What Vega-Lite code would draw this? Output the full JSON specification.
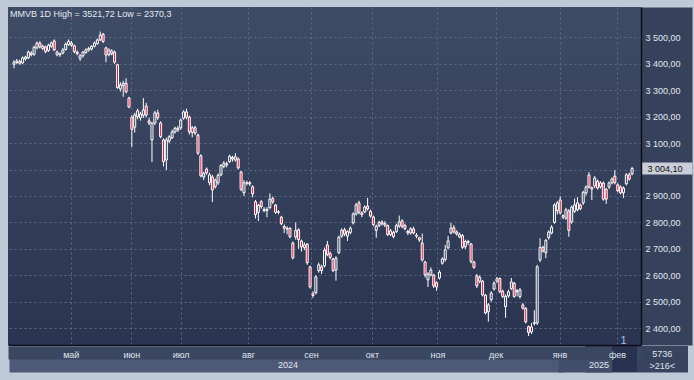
{
"$schema": "https://vega.github.io/schema/vega-lite/v6.json",
"width": 633, "height": 338,
"autosize": "none",
"padding": {"left": 8, "top": 7, "right": 53, "bottom": 35},
"background": "#bfcad9",
"title": {"text": "MMVB 1D High = 3521,72 Low = 2370,3", "anchor": "start", "frame": "group", "orient": "top", "offset": -16, "baseline": "middle", "fontSize": 9, "fontWeight": "normal", "font": "Liberation Sans", "color": "#e3e9f2", "dx": 2},
"data": {"values": [
{"n":0,"o":3398,"h":3414,"l":3383,"c":3405},{"n":1,"o":3405,"h":3418,"l":3398,"c":3410},{"n":2,"o":3408,"h":3415,"l":3396,"c":3402},{"n":3,"o":3403,"h":3428,"l":3398,"c":3422},{"n":4,"o":3418,"h":3430,"l":3412,"c":3425},{"n":5,"o":3422,"h":3450,"l":3418,"c":3444},{"n":6,"o":3440,"h":3448,"l":3428,"c":3434},{"n":7,"o":3436,"h":3468,"l":3430,"c":3462},{"n":8,"o":3460,"h":3484,"l":3455,"c":3478},{"n":9,"o":3478,"h":3485,"l":3458,"c":3464},
{"n":10,"o":3458,"h":3472,"l":3452,"c":3466},{"n":11,"o":3464,"h":3468,"l":3440,"c":3446},{"n":12,"o":3450,"h":3475,"l":3445,"c":3470},{"n":13,"o":3466,"h":3484,"l":3460,"c":3478},{"n":14,"o":3486,"h":3492,"l":3448,"c":3452},{"n":15,"o":3434,"h":3450,"l":3428,"c":3444},{"n":16,"o":3438,"h":3442,"l":3426,"c":3434},{"n":17,"o":3440,"h":3460,"l":3436,"c":3452},{"n":18,"o":3454,"h":3480,"l":3450,"c":3474},{"n":19,"o":3472,"h":3492,"l":3468,"c":3484},
{"n":20,"o":3478,"h":3486,"l":3464,"c":3470},{"n":21,"o":3468,"h":3472,"l":3440,"c":3446},{"n":22,"o":3444,"h":3450,"l":3432,"c":3438},{"n":23,"o":3420,"h":3436,"l":3410,"c":3430},{"n":24,"o":3430,"h":3448,"l":3424,"c":3444},{"n":25,"o":3442,"h":3458,"l":3438,"c":3452},{"n":26,"o":3452,"h":3464,"l":3446,"c":3458},{"n":27,"o":3456,"h":3470,"l":3450,"c":3466},{"n":28,"o":3466,"h":3484,"l":3462,"c":3478},{"n":29,"o":3476,"h":3495,"l":3472,"c":3490},
{"n":30,"o":3490,"h":3521.72,"l":3486,"c":3508},{"n":31,"o":3512,"h":3516,"l":3478,"c":3484},{"n":32,"o":3460,"h":3464,"l":3406,"c":3433},{"n":33,"o":3434,"h":3458,"l":3428,"c":3452},{"n":34,"o":3438,"h":3455,"l":3432,"c":3448},{"n":35,"o":3444,"h":3450,"l":3400,"c":3406},{"n":36,"o":3396,"h":3400,"l":3305,"c":3310},{"n":37,"o":3305,"h":3330,"l":3295,"c":3320},{"n":38,"o":3318,"h":3335,"l":3275,"c":3326},{"n":39,"o":3326,"h":3345,"l":3288,"c":3294},
{"n":40,"o":3270,"h":3275,"l":3232,"c":3236},{"n":41,"o":3198,"h":3205,"l":3085,"c":3152},{"n":42,"o":3160,"h":3215,"l":3140,"c":3206},{"n":43,"o":3200,"h":3230,"l":3190,"c":3222},{"n":44,"o":3195,"h":3218,"l":3185,"c":3210},{"n":45,"o":3205,"h":3270,"l":3195,"c":3225},{"n":46,"o":3240,"h":3252,"l":3198,"c":3206},{"n":47,"o":3184,"h":3195,"l":3168,"c":3176},{"n":48,"o":3112,"h":3180,"l":3028,"c":3175},{"n":49,"o":3176,"h":3222,"l":3168,"c":3214},
{"n":50,"o":3214,"h":3226,"l":3188,"c":3196},{"n":51,"o":3176,"h":3182,"l":3118,"c":3124},{"n":52,"o":3112,"h":3118,"l":3012,"c":3030},{"n":53,"o":3036,"h":3120,"l":2998,"c":3112},{"n":54,"o":3108,"h":3130,"l":3100,"c":3124},{"n":55,"o":3120,"h":3150,"l":3115,"c":3142},{"n":56,"o":3142,"h":3162,"l":3136,"c":3156},{"n":57,"o":3156,"h":3165,"l":3142,"c":3150},{"n":58,"o":3158,"h":3192,"l":3150,"c":3187},{"n":59,"o":3194,"h":3224,"l":3188,"c":3218},
{"n":60,"o":3218,"h":3230,"l":3190,"c":3198},{"n":61,"o":3198,"h":3204,"l":3132,"c":3142},{"n":62,"o":3140,"h":3165,"l":3122,"c":3158},{"n":63,"o":3158,"h":3165,"l":3130,"c":3138},{"n":64,"o":3130,"h":3136,"l":3055,"c":3062},{"n":65,"o":3052,"h":3058,"l":2970,"c":2976},{"n":66,"o":2972,"h":2992,"l":2960,"c":2986},{"n":67,"o":3002,"h":3008,"l":2980,"c":2988},{"n":68,"o":2950,"h":2988,"l":2940,"c":2980},{"n":69,"o":2972,"h":2980,"l":2877,"c":2923},
{"n":70,"o":2935,"h":2966,"l":2928,"c":2960},{"n":71,"o":2950,"h":2985,"l":2942,"c":2978},{"n":72,"o":2980,"h":3020,"l":2975,"c":3015},{"n":73,"o":3012,"h":3032,"l":3005,"c":3024},{"n":74,"o":3022,"h":3030,"l":3008,"c":3018},{"n":75,"o":3030,"h":3056,"l":3025,"c":3050},{"n":76,"o":3046,"h":3052,"l":3030,"c":3040},{"n":77,"o":3036,"h":3062,"l":3030,"c":3048},{"n":78,"o":3040,"h":3046,"l":3000,"c":3006},{"n":79,"o":2990,"h":2995,"l":2918,"c":2925},
{"n":80,"o":2912,"h":2960,"l":2900,"c":2950},{"n":81,"o":2948,"h":2958,"l":2940,"c":2950},{"n":82,"o":2950,"h":2956,"l":2938,"c":2946},{"n":83,"o":2935,"h":2940,"l":2895,"c":2908},{"n":84,"o":2878,"h":2885,"l":2815,"c":2830},{"n":85,"o":2838,"h":2870,"l":2805,"c":2865},{"n":86,"o":2878,"h":2885,"l":2852,"c":2860},{"n":87,"o":2850,"h":2858,"l":2838,"c":2845},{"n":88,"o":2845,"h":2858,"l":2820,"c":2850},{"n":89,"o":2856,"h":2910,"l":2850,"c":2888},
{"n":90,"o":2890,"h":2898,"l":2870,"c":2878},{"n":91,"o":2866,"h":2870,"l":2832,"c":2838},{"n":92,"o":2840,"h":2846,"l":2830,"c":2838},{"n":93,"o":2820,"h":2825,"l":2790,"c":2795},{"n":94,"o":2785,"h":2792,"l":2760,"c":2778},{"n":95,"o":2778,"h":2785,"l":2755,"c":2775},{"n":96,"o":2778,"h":2782,"l":2740,"c":2746},{"n":97,"o":2722,"h":2728,"l":2660,"c":2666},{"n":98,"o":2745,"h":2800,"l":2735,"c":2770},{"n":99,"o":2772,"h":2778,"l":2700,"c":2735},
{"n":100,"o":2730,"h":2735,"l":2690,"c":2708},{"n":101,"o":2705,"h":2725,"l":2695,"c":2715},{"n":102,"o":2718,"h":2722,"l":2640,"c":2648},{"n":103,"o":2632,"h":2636,"l":2550,"c":2556},{"n":104,"o":2530,"h":2540,"l":2515,"c":2524},{"n":105,"o":2534,"h":2600,"l":2528,"c":2594},{"n":106,"o":2618,"h":2648,"l":2610,"c":2640},{"n":107,"o":2632,"h":2640,"l":2605,"c":2618},{"n":108,"o":2636,"h":2705,"l":2630,"c":2695},{"n":109,"o":2715,"h":2730,"l":2672,"c":2678},
{"n":110,"o":2682,"h":2690,"l":2660,"c":2668},{"n":111,"o":2662,"h":2666,"l":2612,"c":2618},{"n":112,"o":2620,"h":2672,"l":2580,"c":2665},{"n":113,"o":2686,"h":2750,"l":2680,"c":2744},{"n":114,"o":2748,"h":2778,"l":2742,"c":2770},{"n":115,"o":2772,"h":2780,"l":2748,"c":2756},{"n":116,"o":2748,"h":2770,"l":2730,"c":2765},{"n":117,"o":2762,"h":2785,"l":2755,"c":2778},{"n":118,"o":2798,"h":2838,"l":2792,"c":2832},{"n":119,"o":2832,"h":2874,"l":2826,"c":2866},
{"n":120,"o":2874,"h":2882,"l":2830,"c":2838},{"n":121,"o":2836,"h":2842,"l":2820,"c":2830},{"n":122,"o":2840,"h":2865,"l":2835,"c":2858},{"n":123,"o":2862,"h":2893,"l":2845,"c":2851},{"n":124,"o":2842,"h":2848,"l":2818,"c":2824},{"n":125,"o":2821,"h":2826,"l":2785,"c":2792},{"n":126,"o":2770,"h":2792,"l":2742,"c":2786},{"n":127,"o":2788,"h":2806,"l":2782,"c":2800},{"n":128,"o":2802,"h":2808,"l":2788,"c":2795},{"n":129,"o":2796,"h":2805,"l":2782,"c":2790},
{"n":130,"o":2788,"h":2792,"l":2748,"c":2754},{"n":131,"o":2754,"h":2775,"l":2748,"c":2768},{"n":132,"o":2762,"h":2768,"l":2740,"c":2746},{"n":133,"o":2765,"h":2795,"l":2760,"c":2788},{"n":134,"o":2786,"h":2826,"l":2780,"c":2802},{"n":135,"o":2806,"h":2812,"l":2778,"c":2785},{"n":136,"o":2788,"h":2795,"l":2770,"c":2776},{"n":137,"o":2766,"h":2772,"l":2752,"c":2760},{"n":138,"o":2760,"h":2782,"l":2754,"c":2776},{"n":139,"o":2775,"h":2784,"l":2755,"c":2760},
{"n":140,"o":2752,"h":2760,"l":2740,"c":2748},{"n":141,"o":2742,"h":2746,"l":2726,"c":2734},{"n":142,"o":2722,"h":2758,"l":2652,"c":2658},{"n":143,"o":2650,"h":2655,"l":2592,"c":2602},{"n":144,"o":2583,"h":2612,"l":2556,"c":2604},{"n":145,"o":2602,"h":2630,"l":2596,"c":2620},{"n":146,"o":2601,"h":2606,"l":2552,"c":2560},{"n":147,"o":2572,"h":2578,"l":2541,"c":2556},{"n":148,"o":2590,"h":2620,"l":2584,"c":2612},{"n":149,"o":2646,"h":2668,"l":2640,"c":2662},
{"n":150,"o":2660,"h":2715,"l":2652,"c":2696},{"n":151,"o":2704,"h":2749,"l":2698,"c":2730},{"n":152,"o":2760,"h":2798,"l":2755,"c":2779},{"n":153,"o":2780,"h":2790,"l":2758,"c":2764},{"n":154,"o":2764,"h":2770,"l":2750,"c":2756},{"n":155,"o":2745,"h":2762,"l":2740,"c":2755},{"n":156,"o":2750,"h":2756,"l":2700,"c":2706},{"n":157,"o":2708,"h":2735,"l":2700,"c":2728},{"n":158,"o":2728,"h":2734,"l":2715,"c":2724},{"n":159,"o":2718,"h":2722,"l":2645,"c":2652},
{"n":160,"o":2650,"h":2655,"l":2625,"c":2630},{"n":161,"o":2598,"h":2605,"l":2552,"c":2560},{"n":162,"o":2578,"h":2600,"l":2570,"c":2592},{"n":163,"o":2578,"h":2582,"l":2520,"c":2526},{"n":164,"o":2525,"h":2530,"l":2452,"c":2458},{"n":165,"o":2462,"h":2495,"l":2425,"c":2488},{"n":166,"o":2508,"h":2540,"l":2500,"c":2533},{"n":167,"o":2548,"h":2578,"l":2542,"c":2570},{"n":168,"o":2578,"h":2594,"l":2572,"c":2587},{"n":169,"o":2588,"h":2592,"l":2532,"c":2538},
{"n":170,"o":2540,"h":2546,"l":2514,"c":2520},{"n":171,"o":2482,"h":2528,"l":2439,"c":2520},{"n":172,"o":2522,"h":2546,"l":2515,"c":2538},{"n":173,"o":2550,"h":2590,"l":2544,"c":2575},{"n":174,"o":2570,"h":2575,"l":2515,"c":2520},{"n":175,"o":2542,"h":2548,"l":2520,"c":2538},{"n":176,"o":2520,"h":2552,"l":2512,"c":2545},{"n":177,"o":2488,"h":2495,"l":2470,"c":2476},{"n":178,"o":2475,"h":2480,"l":2418,"c":2424},{"n":179,"o":2406,"h":2410,"l":2370.3,"c":2384},
{"n":180,"o":2386,"h":2420,"l":2378,"c":2405},{"n":181,"o":2418,"h":2468,"l":2410,"c":2421},{"n":182,"o":2420,"h":2640,"l":2412,"c":2632},{"n":183,"o":2658,"h":2740,"l":2650,"c":2705},{"n":184,"o":2706,"h":2712,"l":2686,"c":2692},{"n":185,"o":2685,"h":2738,"l":2665,"c":2732},{"n":186,"o":2742,"h":2770,"l":2735,"c":2764},{"n":187,"o":2760,"h":2790,"l":2755,"c":2782},{"n":188,"o":2800,"h":2872,"l":2795,"c":2866},{"n":189,"o":2845,"h":2880,"l":2830,"c":2874},
{"n":190,"o":2885,"h":2898,"l":2830,"c":2836},{"n":191,"o":2826,"h":2830,"l":2812,"c":2820},{"n":192,"o":2816,"h":2855,"l":2810,"c":2848},{"n":193,"o":2843,"h":2850,"l":2746,"c":2770},{"n":194,"o":2802,"h":2864,"l":2795,"c":2858},{"n":195,"o":2842,"h":2890,"l":2836,"c":2866},{"n":196,"o":2848,"h":2896,"l":2842,"c":2874},{"n":197,"o":2866,"h":2872,"l":2846,"c":2852},{"n":198,"o":2874,"h":2920,"l":2866,"c":2914},{"n":199,"o":2912,"h":2940,"l":2902,"c":2934},
{"n":200,"o":2979,"h":2990,"l":2928,"c":2934},{"n":201,"o":2932,"h":2936,"l":2885,"c":2926},{"n":202,"o":2938,"h":2975,"l":2930,"c":2968},{"n":203,"o":2956,"h":2962,"l":2924,"c":2930},{"n":204,"o":2935,"h":2956,"l":2928,"c":2949},{"n":205,"o":2949,"h":2955,"l":2882,"c":2888},{"n":206,"o":2925,"h":2930,"l":2870,"c":2888},{"n":207,"o":2934,"h":2955,"l":2926,"c":2949},{"n":208,"o":2950,"h":2970,"l":2944,"c":2964},{"n":209,"o":2975,"h":2998,"l":2944,"c":2950},
{"n":210,"o":2942,"h":2948,"l":2914,"c":2920},{"n":211,"o":2934,"h":2940,"l":2906,"c":2912},{"n":212,"o":2912,"h":2936,"l":2892,"c":2930},{"n":213,"o":2946,"h":2986,"l":2940,"c":2980},{"n":214,"o":2980,"h":2988,"l":2958,"c":2964},{"n":215,"o":2984,"h":3010,"l":2978,"c":3004.1}
]},
"layer": [
{
"mark": {"type": "rule", "color": "#ffffff", "strokeWidth": 1},
"encoding": {
"x": {"field": "n", "type": "quantitative", "scale": {"domain": [-0.34, 216.36], "nice": false, "zero": false},
 "axis": {"orient": "bottom", "offset": 0.5, "title": null, "values": [19.76, 40.84, 57.96, 81.38, 103.29, 124.51, 147.31, 167.51, 189.76, 209.75, 216.3],
 "grid": true, "gridColor": "#5c6a86", "gridDash": [2, 3], "gridWidth": 1,
 "gridOpacity": {"condition": {"test": "datum.value > 215", "value": 0}, "value": 1},
 "domain": false, "ticks": true, "tickSize": 26.5, "tickWidth": 103, "tickColor": "#38445e",
 "tickOpacity": {"condition": {"test": "datum.value > 215", "value": 1}, "value": 0},
 "labelExpr": "datum.value > 215 ? ['5736', '>216<'] : ''",
 "labelOffset": 26, "labelPadding": -18.5, "labelBaseline": "middle", "labelAlign": "center", "labelLineHeight": 12,
 "labelColor": "#dfe5ee", "labelOverlap": false, "labelFlush": false}},
"y": {"field": "l", "type": "quantitative", "scale": {"domain": [2336.6, 3614.5], "nice": false, "zero": false},
 "axis": {"orient": "right", "offset": 25.5, "title": null, "values": [2400, 2500, 2600, 2700, 2800, 2900, 3000, 3100, 3200, 3300, 3400, 3500],
 "grid": true, "gridColor": "#5c6a86", "gridDash": [2, 3], "gridWidth": 1,
 "domain": true, "domainColor": "#36425c", "domainWidth": 51, "ticks": false, "labels": false}},
"y2": {"field": "h"}
}
},
{
"transform": [{"filter": "datum.c >= datum.o"}],
"mark": {"type": "bar", "size": 2, "fill": "#313d57", "stroke": "#ffffff", "strokeWidth": 1},
"encoding": {
"x": {"field": "n", "type": "quantitative", "scale": {"domain": [-0.34, 216.36], "nice": false, "zero": false},
 "axis": {"orient": "bottom", "offset": 7.5, "title": null, "values": [94.49, 198.56, 95.17, 203.35],
 "grid": false, "domain": true, "domainColor": "#3b4761", "domainWidth": 13,
 "ticks": true, "tickSize": 19.5,
 "tickWidth": {"condition": {"test": "datum.value == 94.49", "value": 554}, "value": 54},
 "tickColor": {"condition": {"test": "datum.value == 94.49", "value": "#4c5a77"}, "value": "#424f6a"},
 "tickOpacity": {"condition": {"test": "datum.value == 94.49 || datum.value == 198.56", "value": 1}, "value": 0},
 "labelExpr": "datum.value == 95.17 ? '2024' : datum.value == 203.35 ? '2025' : ''",
 "labelPadding": -7.7, "labelBaseline": "middle", "labelAlign": "center",
 "labelColor": "#e1e7f0", "labelOverlap": false, "labelFlush": false}},
"y": {"field": "o", "type": "quantitative", "scale": {"domain": [2336.6, 3614.5], "nice": false, "zero": false},
 "axis": {"orient": "right", "offset": 0, "title": null, "values": [2400, 2500, 2600, 2700, 2800, 2900, 3100, 3200, 3300, 3400, 3500, 3004.1], "grid": false,
 "domain": true, "domainColor": "#0b0f18", "domainWidth": 1.5,
 "ticks": true, "tickSize": 51, "tickWidth": 12, "tickColor": "#c9ced8",
 "tickOpacity": {"condition": {"test": "datum.value == 3004.1", "value": 1}, "value": 0},
 "labelPadding": {"condition": {"test": "datum.value == 3004.1", "value": -45}, "value": -47},
 "labelColor": {"condition": {"test": "datum.value == 3004.1", "value": "#101010"}, "value": "#e1e7f0"},
 "labelAlign": "left", "labelBaseline": "middle",
 "labelExpr": "datum.value == 3004.1 ? '3 004,10' : replace(replace(format(datum.value, ',.2f'), ',', ' '), '.', ',')",
 "labelOverlap": false, "labelFlush": false}},
"y2": {"field": "c"}
}
},
{
"transform": [{"filter": "datum.c < datum.o"}],
"mark": {"type": "bar", "size": 2, "fill": "#e8173f", "stroke": "#ffffff", "strokeWidth": 1},
"encoding": {
"x": {"field": "n", "type": "quantitative", "scale": {"domain": [-0.34, 216.36], "nice": false, "zero": false},
 "axis": {"orient": "bottom", "offset": 0, "title": null, "values": [19.76, 40.84, 57.96, 81.38, 103.29, 124.51, 147.31, 167.51, 189.76, 209.75, 211.9, 212.09],
 "grid": false, "domain": true, "domainColor": "#0b0f18", "domainWidth": 1.5,
 "ticks": true, "tickSize": 26.5, "tickWidth": 25, "tickColor": "#293250",
 "tickOpacity": {"condition": {"test": "datum.value == 212.09", "value": 1}, "value": 0},
 "labelExpr": "datum.value == 211.9 ? '1' : datum.value == 212.09 ? '' : datum.value < 30 ? 'май' : datum.value < 50 ? 'июн' : datum.value < 70 ? 'июл' : datum.value < 90 ? 'авг' : datum.value < 110 ? 'сен' : datum.value < 130 ? 'окт' : datum.value < 155 ? 'ноя' : datum.value < 180 ? 'дек' : datum.value < 200 ? 'янв' : 'фев'",
 "labelPadding": {"condition": {"test": "datum.value == 211.9", "value": -31.5}, "value": -17.2},
 "labelFontSize": {"condition": {"test": "datum.value == 211.9", "value": 11}, "value": 9},
 "labelColor": {"condition": {"test": "datum.value == 211.9", "value": "#9dc1f0"}, "value": "#dfe5ee"},
 "labelBaseline": "middle", "labelAlign": "center", "labelOverlap": false, "labelFlush": false}},
"y": {"field": "o", "type": "quantitative", "scale": {"domain": [2336.6, 3614.5], "nice": false, "zero": false}, "axis": null},
"y2": {"field": "c"}
}
}
],
"resolve": {"axis": {"x": "independent", "y": "independent"}},
"config": {
"view": {"fill": {"gradient": "linear", "x1": 0, "y1": 0, "x2": 0, "y2": 1, "stops": [{"offset": 0, "color": "#3f4c66"}, {"offset": 1, "color": "#2a3450"}]}, "stroke": null},
"axis": {"labelFont": "Liberation Sans", "labelFontSize": 9}
}
}
